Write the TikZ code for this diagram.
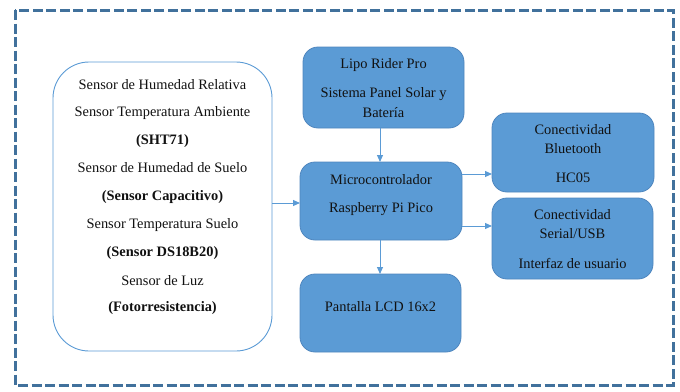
\documentclass[tikz,border=0pt]{standalone}
\usepackage{fontspec}
\setmainfont{Liberation Serif}
\usetikzlibrary{arrows.meta}
\definecolor{boxfill}{HTML}{5B9BD5}
\definecolor{boxline}{HTML}{4F86BE}
\definecolor{frameline}{HTML}{41719C}
\definecolor{arrowc}{HTML}{5B9BD5}
\definecolor{txt}{HTML}{111111}
\begin{document}
\begin{tikzpicture}[x=1pt,y=-1pt,
  bluebox/.style={draw=boxline, line width=0.8pt, fill=boxfill, rounded corners=15pt, inner sep=0pt},
  sensbox/.style={draw=boxfill, line width=0.9pt, fill=white, rounded corners=36pt, inner sep=0pt},
  lbl/.style={text=txt, inner sep=0pt, font=\fontsize{14.4}{16}\selectfont},
  blbl/.style={lbl, font=\fontsize{14.4}{16}\selectfont\bfseries},
  conn/.style={draw=arrowc, line width=1pt, -{Triangle[length=7pt,width=6pt]}}]
\useasboundingbox (0,0) rectangle (680,391);
\draw[frameline, line width=3pt, dash pattern=on 10pt off 3.5pt] (15,10) rectangle (673,385);

% boxes
\node[sensbox, minimum width=219pt, minimum height=289pt] (sens) at (162.5,206.5) {};
\node[bluebox, minimum width=161pt, minimum height=81pt] (lipo) at (383.5,87.5) {};
\node[bluebox, minimum width=162pt, minimum height=78pt] (micro) at (381,201) {};
\node[bluebox, minimum width=161pt, minimum height=78pt] (lcd) at (380.5,313) {};
\node[bluebox, minimum width=162pt, minimum height=79pt] (bt) at (573,152.5) {};
\node[bluebox, minimum width=161pt, minimum height=81pt] (ser) at (572.5,238.5) {};

% sensor texts
\node[lbl] (s1) at (162.5,85) {Sensor de Humedad Relativa};
\node[lbl] (s2) at (162.5,113) {Sensor Temperatura Ambiente};
\node[blbl] (s3) at (162.5,141) {(SHT71)};
\node[lbl] (s4) at (162.5,168) {Sensor de Humedad de Suelo};
\node[blbl] (s5) at (162.5,197) {(Sensor Capacitivo)};
\node[lbl] (s6) at (162.5,225) {Sensor Temperatura Suelo};
\node[blbl] (s7) at (162.5,253) {(Sensor DS18B20)};
\node[lbl] (s8) at (162.5,281) {Sensor de Luz};
\node[blbl] (s9) at (162.5,308) {(Fotorresistencia)};

% lipo texts
\node[lbl] (l1) at (383.5,65) {Lipo Rider Pro};
\node[lbl] (l2) at (383.5,94) {Sistema Panel Solar y};
\node[lbl] (l3) at (383.5,113) {Batería};

% micro texts
\node[lbl] (m1) at (381,180) {Microcontrolador};
\node[lbl] (m2) at (381,209) {Raspberry Pi Pico};

% lcd text
\node[lbl] (d1) at (380.5,307) {Pantalla LCD 16x2};

% bt texts
\node[lbl] (b1) at (573,130) {Conectividad};
\node[lbl] (b2) at (573,149) {Bluetooth};
\node[lbl] (b3) at (573,178) {HC05};

% serial texts
\node[lbl] (r1) at (572.5,215) {Conectividad};
\node[lbl] (r2) at (572.5,234) {Serial/USB};
\node[lbl] (r3) at (572.5,263) {Interfaz de usuario};

% connectors
\coordinate (lipoS) at (380,128);
\coordinate (microN) at (380,162);
\coordinate (microS) at (380,240);
\coordinate (lcdN) at (380,274);
\coordinate (microE1) at (462,174);
\coordinate (btW) at (492,174);
\coordinate (microE2) at (462,226);
\coordinate (serW) at (492,226);
\coordinate (sensE) at (272,203);
\coordinate (microW) at (300,203);
\draw[conn] (lipoS) -- (microN);
\draw[conn] (microS) -- (lcdN);
\draw[conn] (microE1) -- (btW);
\draw[conn] (microE2) -- (serW);
\draw[conn] (sensE) -- (microW);
\end{tikzpicture}
\end{document}
